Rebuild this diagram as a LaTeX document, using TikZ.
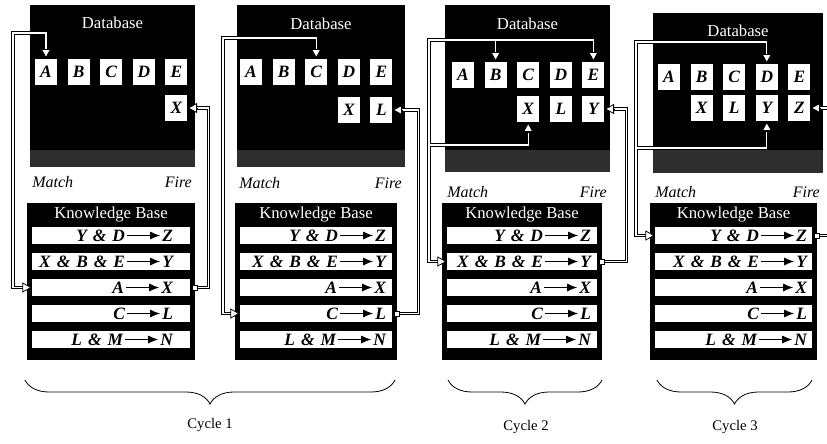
\documentclass[tikz,border=0pt]{standalone}
\usepackage{fontspec}
\setmainfont{Liberation Serif}
\usetikzlibrary{arrows.meta,calc,decorations.pathreplacing}
\newcommand\amp{\hspace{4.5pt}\&\hspace{4.5pt}}
\definecolor{dgray}{gray}{0.18}
\begin{document}
\begin{tikzpicture}[x=0.75pt,y=-0.75pt,
  dbox/.style={fill=black, inner sep=0pt, outer sep=0pt, anchor=north west},
  sq/.style={fill=white, minimum width=16.5pt, minimum height=20pt, inner sep=0pt, font=\fontsize{13}{13}\selectfont\bfseries\itshape},
  ttl/.style={text=white, inner sep=0pt, font=\fontsize{12.5}{12.5}\selectfont},
  lbl/.style={inner sep=0pt, font=\fontsize{12}{12}\selectfont\itshape},
  rowbox/.style={fill=white, minimum height=13pt, inner sep=0pt},
  rtxt/.style={inner xsep=1.5pt, inner ysep=0pt, text height=8.6pt, text depth=0pt, font=\fontsize{13}{13}\selectfont\bfseries\itshape},
  rarr/.style={line width=0.8pt, -{Latex[length=7.5pt,width=6pt]}},
  conn/.style={draw=black, line width=0.7pt, double=white, double distance=1pt},
  tip/.style={line width=0.6pt, draw=black, -{Triangle[length=7pt,width=7.5pt,fill=white]}},
  fmark/.style={draw=black, fill=white, minimum size=3.5pt, inner sep=0pt, line width=0.5pt},
  brc/.style={decorate, decoration={brace, mirror, amplitude=18pt}, line width=0.6pt},
  cyc/.style={inner sep=0pt, font=\fontsize{11}{11}\selectfont}]

\fill[white] (0,0) rectangle (827,443);
\useasboundingbox (0,0) rectangle (827,443);

\foreach \Pn/\Dl/\Dr/\Dt/\Gb/\Ty/\My/\Ry/\Kl/\Kr/\Sx/\Cm in
 {1/30/195/5/167/23/182/72/27/195/46/15,
  2/237/405/5/167/24/183/72/235/397/251/4,
  3/445/610/5/172/24/192/75/442/602/463/4,
  4/653/823/13/173/31/192/77/650/817/669/3}{
  \node[dbox, minimum width={(\Dr-\Dl)*0.75pt}, minimum height={(150-\Dt)*0.75pt}] (p\Pn db) at (\Dl,\Dt) {};
  \fill[dgray] (\Dl,150) rectangle (\Dr,\Gb);
  \node[ttl] (p\Pn dbt) at ({(\Dl+\Dr)/2},\Ty) {Database};
  \foreach \letr [count=\k from 0] in {A,B,C,D,E}{
    \node[sq] (p\Pn\letr) at ({\Sx+32.6*\k},\Ry) {\letr};
  }
  \node[lbl, anchor=west] (p\Pn mlab) at (\Dl+2,\My) {Match};
  \node[lbl, anchor=east] (p\Pn flab) at (\Dr-3,\My) {Fire};
  \node[dbox, minimum width={(\Kr-\Kl)*0.75pt}, minimum height={157*0.75pt}] (p\Pn kb) at (\Kl,203) {};
  \node[ttl] (p\Pn kbt) at ({(\Kl+\Kr)/2},215) {Knowledge Base};
  \foreach \Ant/\Con [count=\k from 0] in {{Y\amp D}/Z,{X\amp B\amp E}/Y,A/X,C/L,{L\amp M}/N}{
    \node[rowbox, minimum width={(\Kr-\Kl-10)*0.75pt}] (p\Pn r\k) at ({(\Kl+\Kr)/2},{235.5+26*\k}) {};
    \node[rtxt, anchor=east] (p\Pn c\k) at ($(p\Pn r\k.east)+(-\Cm,0)$) {\Con};
    \node[rtxt, anchor=east] (p\Pn n\k) at ($(p\Pn c\k.west)+(-33,0)$) {\Ant};
    \draw[rarr] (p\Pn n\k.east) -- (p\Pn c\k.west);
  }
}

% second-row database entries
\node[sq] (p1X) at ($(p1E)+(0,36)$) {X};
\node[sq] (p2X) at ($(p2D)+(0,38)$) {X};
\node[sq] (p2L) at ($(p2E)+(0,38)$) {L};
\node[sq] (p3X) at ($(p3C)+(0,34)$) {X};
\node[sq] (p3L) at ($(p3D)+(0,34)$) {L};
\node[sq] (p3Y) at ($(p3E)+(0,34)$) {Y};
\node[sq] (p4X) at ($(p4B)+(0,31)$) {X};
\node[sq] (p4L) at ($(p4C)+(0,31)$) {L};
\node[sq] (p4Y) at ($(p4D)+(0,31)$) {Y};
\node[sq] (p4Z) at ($(p4E)+(0,31)$) {Z};

% ---- panel 1 connectors
\coordinate (p1mt) at (13,33);
\coordinate (p1mb) at ($(p1r2.west)+(-9,0)$);
\coordinate (p1ma) at ($(p1A.north)+(0,-9)$);
\draw[conn] (p1mb) -| (p1mt) -| (p1ma);
\draw[tip] (p1ma) -- (p1A.north);
\draw[tip] (p1mb) -- (p1r2.west);
\node[fmark] (p1fm) at (p1r2 -| p1kb.east) {};
\coordinate (p1fc) at ($(p1X.east)+(21,0)$);
\coordinate (p1fa) at ($(p1X.east)+(9,0)$);
\draw[conn] (p1fm.east) -| (p1fc) -- (p1fa);
\draw[tip] (p1fa) -- (p1X.east);

% ---- panel 2 connectors
\coordinate (p2mt) at (223,38);
\coordinate (p2mb) at ($(p2r3.west)+(-9,0)$);
\coordinate (p2ma) at ($(p2C.north)+(0,-9)$);
\draw[conn] (p2mb) -| (p2mt) -| (p2ma);
\draw[tip] (p2ma) -- (p2C.north);
\draw[tip] (p2mb) -- (p2r3.west);
\node[fmark] (p2fm) at (p2r3 -| p2kb.east) {};
\coordinate (p2fc) at ($(p2L.east)+(26,0)$);
\coordinate (p2fa) at ($(p2L.east)+(9,0)$);
\draw[conn] (p2fm.east) -| (p2fc) -- (p2fa);
\draw[tip] (p2fa) -- (p2L.east);

% ---- panel 3 connectors
\coordinate (p3mt) at (429,40);
\coordinate (p3mm) at (429,145);
\coordinate (p3mb) at ($(p3r1.west)+(-9,0)$);
\coordinate (p3ma) at ($(p3B.north)+(0,-9)$);
\coordinate (p3me) at ($(p3E.north)+(0,-9)$);
\coordinate (p3mx) at ($(p3X.south)+(0,9)$);
\draw[conn] (p3mb) -| (p3mm) -- (p3mt) -| (p3me)
  (p3mt -| p3ma) -- (p3ma)
  (p3mm) -| (p3mx);
\draw[tip] (p3ma) -- (p3B.north);
\draw[tip] (p3me) -- (p3E.north);
\draw[tip] (p3mx) -- (p3X.south);
\draw[tip] (p3mb) -- (p3r1.west);
\node[fmark] (p3fm) at (p3r1 -| p3kb.east) {};
\coordinate (p3fc) at ($(p3Y.east)+(22,0)$);
\coordinate (p3fa) at ($(p3Y.east)+(9,0)$);
\draw[conn] (p3fm.east) -| (p3fc) -- (p3fa);
\draw[tip] (p3fa) -- (p3Y.east);

% ---- panel 4 connectors
\coordinate (p4mt) at (636,42);
\coordinate (p4mm) at (636,148);
\coordinate (p4mb) at ($(p4r0.west)+(-9,0)$);
\coordinate (p4md) at ($(p4D.north)+(0,-9)$);
\coordinate (p4my) at ($(p4Y.south)+(0,9)$);
\draw[conn] (p4mb) -| (p4mm) -- (p4mt) -| (p4md)
  (p4mm) -| (p4my);
\draw[tip] (p4md) -- (p4D.north);
\draw[tip] (p4my) -- (p4Y.south);
\draw[tip] (p4mb) -- (p4r0.west);
\node[fmark] (p4fm) at (p4r0 -| p4kb.east) {};
\coordinate (p4fo) at ($(p4fm.east)+(14,0)$);
\draw[conn] (p4fm.east) -- (p4fo);
\coordinate (p4zo) at ($(p4Z.east)+(20,0)$);
\coordinate (p4fa) at ($(p4Z.east)+(9,0)$);
\draw[conn] (p4zo) -- (p4fa);
\draw[tip] (p4fa) -- (p4Z.east);

% ---- braces
\coordinate (b1l) at (25,380);  \coordinate (b1r) at (395,380);
\coordinate (b2l) at (448,380); \coordinate (b2r) at (602,380);
\coordinate (b3l) at (657,380); \coordinate (b3r) at (812,380);
\draw[brc] (b1l) -- (b1r);
\draw[brc] (b2l) -- (b2r);
\draw[brc] (b3l) -- (b3r);
\node[cyc] (cy1) at (210,425) {Cycle 1};
\node[cyc] (cy2) at (526,427) {Cycle 2};
\node[cyc] (cy3) at (735,427) {Cycle 3};
\end{tikzpicture}
\end{document}
